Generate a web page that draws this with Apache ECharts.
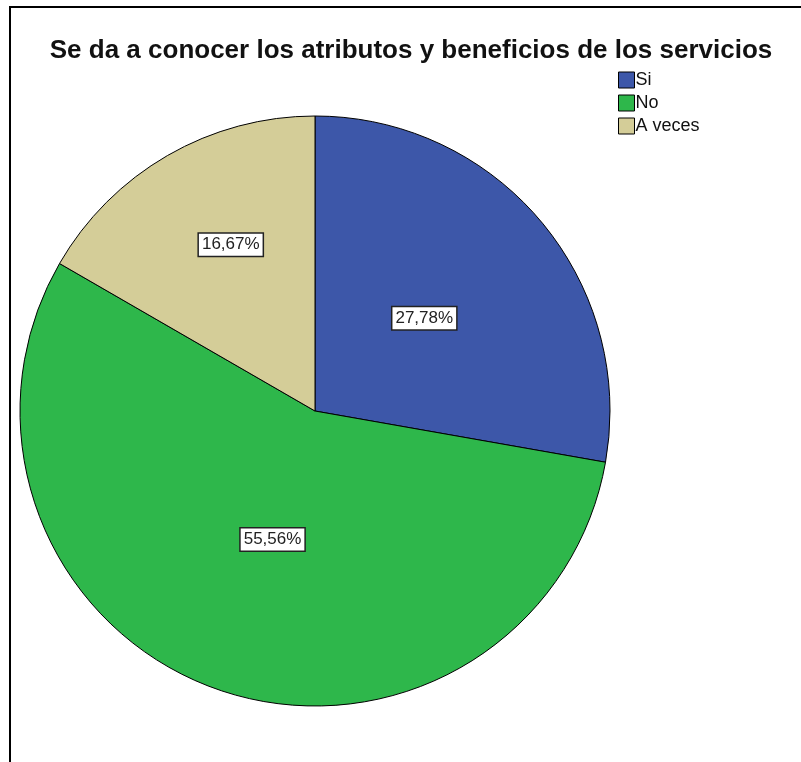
<!DOCTYPE html>
<html><head><meta charset="utf-8">
<script src="https://cdn.jsdelivr.net/npm/echarts@6/dist/echarts.min.js"></script>
<style>html,body{margin:0;padding:0;background:#fff}#c{width:801px;height:762px}</style>
</head><body><div id="c"></div>
<script>
const titleText = 'Se da a conocer los atributos y beneficios de los servicios';
const categories = ['Si', 'No', 'A veces'];
const counts = [5, 10, 3];
const percentLabels = ['27,78%', '55,56%', '16,67%'];
const colors = ['#3d57a9', '#2eb74b', '#d4cd98'];
const labelOffsets = [[-6, 4], [9, -13], [-9, -36]];

const chart = echarts.init(document.getElementById('c'));
chart.setOption({
  animation: false,
  title: {
    text: titleText, left: 406, top: 33, textAlign: 'center',
    textStyle: {fontFamily: 'Liberation Sans, Arial, sans-serif', fontSize: 26, fontWeight: 'bold', color: '#111'}
  },
  legend: {
    orient: 'vertical', left: 613, top: 66, itemWidth: 16, itemHeight: 16, itemGap: 5,
    icon: 'rect',
    itemStyle: {borderColor: '#000', borderWidth: 1},
    textStyle: {fontFamily: 'Liberation Sans, Arial, sans-serif', fontSize: 18, color: '#111', padding: [0,0,0,-4]},
    data: categories
  },
  graphic: [{
    type: 'rect', shape: {x: 10, y: 7, width: 900, height: 900},
    style: {fill: 'none', stroke: '#000', lineWidth: 2}, silent: true
  }],
  series: [{
    type: 'pie', center: [315, 411], radius: 295, startAngle: 90, clockwise: true,
    itemStyle: {borderColor: '#000', borderWidth: 1},
    label: {
      show: true, position: 'inside',
      formatter: p => percentLabels[p.dataIndex],
      fontFamily: 'Liberation Sans, Arial, sans-serif', fontSize: 17, color: '#222',
      backgroundColor: '#fff', borderColor: '#222', borderWidth: 1.5, padding: [3, 3, 2, 3]
    },
    labelLine: {show: false},
    emphasis: {disabled: true},
    data: categories.map((c, i) => ({name: c, value: counts[i], itemStyle: {color: colors[i]},
      label: {offset: labelOffsets[i]}}))
  }]
});
</script></body></html>
